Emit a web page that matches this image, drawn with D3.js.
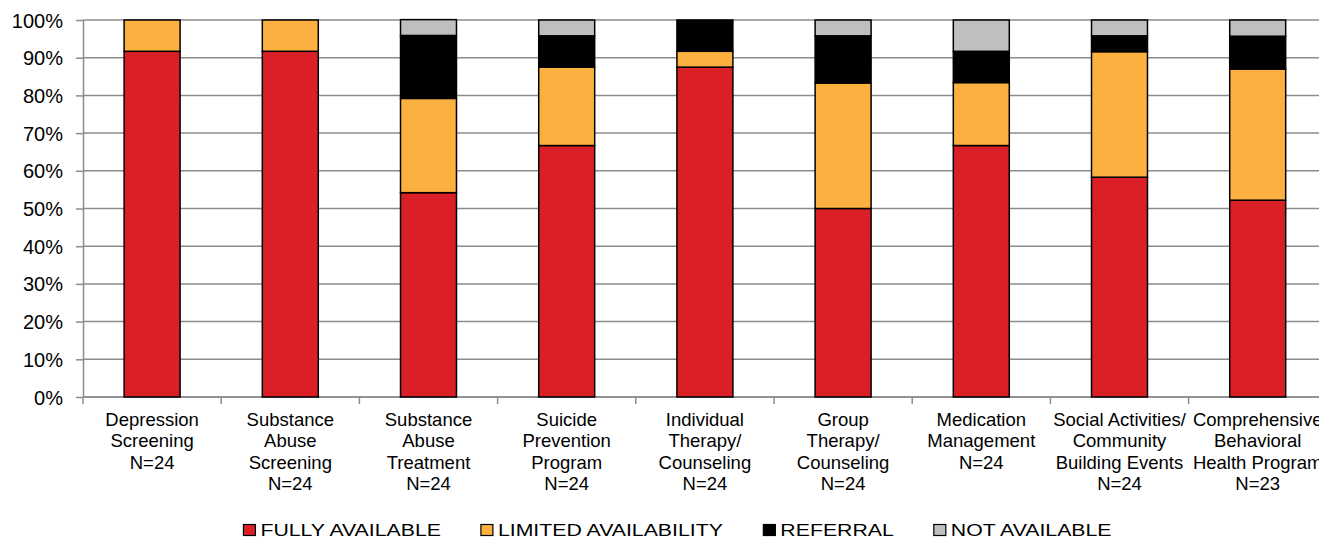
<!DOCTYPE html>
<html>
<head>
<meta charset="utf-8">
<script src="https://cdn.jsdelivr.net/npm/d3@7"></script>
<style>
  html, body { margin: 0; padding: 0; background: #fff; overflow: hidden; }
  svg { display: block; font-family: "Liberation Sans", Arial, sans-serif; }
</style>
</head>
<body>
<svg id="chart" width="1319" height="539"></svg>
<script>
// category labels (one entry per line)
const categories = [
  ["Depression", "Screening", "N=24"],
  ["Substance", "Abuse", "Screening", "N=24"],
  ["Substance", "Abuse", "Treatment", "N=24"],
  ["Suicide", "Prevention", "Program", "N=24"],
  ["Individual", "Therapy/", "Counseling", "N=24"],
  ["Group", "Therapy/", "Counseling", "N=24"],
  ["Medication", "Management", "N=24"],
  ["Social Activities/", "Community", "Building Events", "N=24"],
  ["Comprehensive", "Behavioral", "Health Program", "N=23"]
]

// percentages per series
const fullyAvailable      = [91.7, 91.7, 54.2, 66.7, 87.5, 50.0, 66.7, 58.3, 52.2]
const limitedAvailability = [8.3, 8.3, 25.0, 20.8, 4.2, 33.3, 16.7, 33.3, 34.8]
const referral            = [0, 0, 16.7, 8.3, 8.3, 12.5, 8.3, 4.2, 8.7]
const notAvailable        = [0, 0, 4.2, 4.2, 0, 4.2, 8.3, 4.2, 4.3]

const seriesNames = ["FULLY AVAILABLE", "LIMITED AVAILABILITY", "REFERRAL", "NOT AVAILABLE"]
const seriesColors = ["#DA1F26", "#FBB040", "#000000", "#BFBFBF"]
const yTicks = [0, 10, 20, 30, 40, 50, 60, 70, 80, 90, 100]

const rows = categories.map((c, i) => ({
  key: i,
  s0: fullyAvailable[i],
  s1: limitedAvailability[i],
  s2: referral[i],
  s3: notAvailable[i]
}))

const margin = { top: 20, left: 83 }
const bandWidth = 138.2
const innerWidth = bandWidth * categories.length
const innerHeight = 377

const svg = d3.select("#chart")
const g = svg.append("g").attr("transform", `translate(${margin.left},${margin.top})`)

const x = d3.scaleBand()
  .domain(d3.range(categories.length))
  .range([0, innerWidth])
  .paddingInner(0.595)
  .paddingOuter(0.2975)

const y = d3.scaleLinear().domain([0, 100]).range([innerHeight, 0])

// gridlines
g.append("g")
  .selectAll("line")
  .data(yTicks)
  .join("line")
    .attr("x1", 0)
    .attr("x2", innerWidth)
    .attr("y1", d => y(d))
    .attr("y2", d => y(d))
    .attr("stroke", "#8c8c8c")
    .attr("stroke-width", 1.5)

// y axis
const yAxis = g.append("g")
  .call(d3.axisLeft(y).tickValues(yTicks).tickFormat(d => d + "%").tickSize(7).tickSizeOuter(0))
yAxis.select(".domain").attr("stroke", "#8c8c8c").attr("stroke-width", 1.5)
yAxis.selectAll(".tick line").attr("stroke", "#8c8c8c").attr("stroke-width", 1.5)
yAxis.selectAll(".tick text")
  .attr("x", -20)
  .attr("dy", "0.35em")
  .attr("fill", "#000")
  .style("font-size", "20px")
  .style("font-family", "Liberation Sans, Arial, sans-serif")

// x axis line and boundary ticks
g.append("line")
  .attr("x1", 0).attr("x2", innerWidth)
  .attr("y1", innerHeight).attr("y2", innerHeight)
  .attr("stroke", "#8c8c8c").attr("stroke-width", 1.5)
g.append("g")
  .selectAll("line")
  .data(d3.range(categories.length + 1))
  .join("line")
    .attr("x1", d => d * x.step())
    .attr("x2", d => d * x.step())
    .attr("y1", innerHeight)
    .attr("y2", innerHeight + 7)
    .attr("stroke", "#8c8c8c")
    .attr("stroke-width", 1.5)

// stacked bars
const stack = d3.stack().keys(["s0", "s1", "s2", "s3"])
const stacked = stack(rows)

g.append("g")
  .selectAll("g")
  .data(stacked)
  .join("g")
    .attr("fill", (d, i) => seriesColors[i])
  .selectAll("rect")
  .data(d => d.filter(p => p[1] - p[0] > 0))
  .join("rect")
    .attr("x", d => x(d.data.key))
    .attr("y", d => y(d[1]))
    .attr("width", x.bandwidth())
    .attr("height", d => y(d[0]) - y(d[1]))
    .attr("stroke", "#000")
    .attr("stroke-width", 1.5)

// category labels
const labels = g.append("g")
  .selectAll("text")
  .data(categories)
  .join("text")
    .attr("x", (d, i) => x(i) + x.bandwidth() / 2)
    .attr("y", innerHeight + 29)
    .attr("text-anchor", "middle")
    .attr("fill", "#000")
    .style("font-size", "18.5px")
labels.selectAll("tspan")
  .data(d => d)
  .join("tspan")
    .attr("x", function () { return d3.select(this.parentNode).attr("x") })
    .attr("dy", (d, i) => i === 0 ? 0 : 21.4)
    .text(d => d)

// legend (text in the reference is drawn horizontally stretched)
const legend = svg.append("g").attr("transform", "translate(0,530)")
const items = legend.selectAll("g")
  .data(seriesNames)
  .join("g")
items.append("rect")
  .attr("x", 0).attr("y", -5.5)
  .attr("width", 12).attr("height", 11)
  .attr("fill", (d, i) => seriesColors[i])
  .attr("stroke", "#000")
  .attr("stroke-width", 1.2)
items.append("text")
  .attr("transform", "translate(17,0) scale(1.33,1)")
  .attr("dy", "0.35em")
  .style("font-size", "16px")
  .attr("fill", "#000")
  .text(d => d)

const gap = 40
let widths = []
items.each(function () { widths.push(this.getBBox().width) })
const total = d3.sum(widths) + gap * (widths.length - 1)
let cursor = 677.5 - total / 2
items.attr("transform", (d, i) => {
  const t = `translate(${cursor},0)`
  cursor += widths[i] + gap
  return t
})
</script>
</body>
</html>
